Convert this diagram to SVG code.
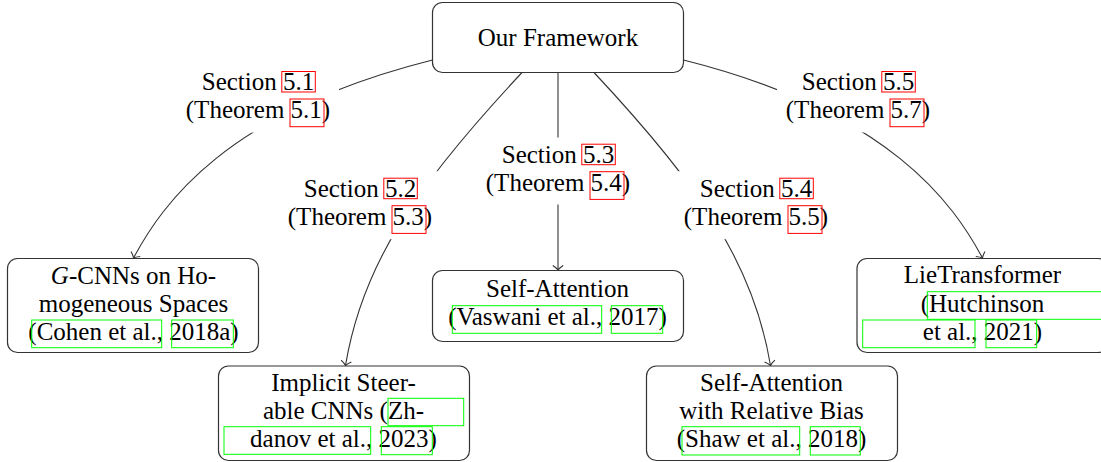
<svg xmlns="http://www.w3.org/2000/svg" width="1101" height="462" viewBox="0 0 1101 462">
<style>
text { font-family: "Liberation Serif", "Times New Roman", serif; font-size: 25px; fill: #000; text-anchor: middle; }
.node { fill: #fff; stroke: #333; stroke-width: 1.2; }
.edge { fill: none; stroke: #333; stroke-width: 1.1; }
.lbg { fill: #fff; stroke: none; }
.ref { fill: none; stroke: #ff0000; stroke-width: 1; }
.cite { fill: none; stroke: #00ff00; stroke-width: 1; }
</style>
<defs>
<marker id="arr" viewBox="-8 -8 10 16" refX="0" refY="0" markerWidth="10" markerHeight="16" markerUnits="userSpaceOnUse" orient="auto" overflow="visible">
<path d="M -4.5,-5.2 Q -1.8,-1.2 0,0 Q -1.8,1.2 -4.5,5.2" fill="none" stroke="#333" stroke-width="1.1"/>
</marker>
</defs>

<g id="connectors">
<path class="edge" d="M 432.5,60 C 225,112 162,205 133.5,258" marker-end="url(#arr)"/>
<path class="edge" d="M 522,72.5 C 413,189 362,266 345.5,365.5" marker-end="url(#arr)"/>
<path class="edge" d="M 558,72.5 L 558,270" marker-end="url(#arr)"/>
<path class="edge" d="M 594,72.5 C 703,189 754,266 770.5,365.5" marker-end="url(#arr)"/>
<path class="edge" d="M 683.5,60 C 891,112 954,205 982.5,258" marker-end="url(#arr)"/>

<g id="label-5-1">
<rect class="lbg" x="177" y="64.5" width="162" height="68"/>
<text x="258" y="90">Section 5.1</text>
<text x="258" y="118.3">(Theorem 5.1)</text>
<rect class="ref" x="281.8" y="71.5" width="33.5" height="20.5"/>
<rect class="ref" x="290" y="99" width="34" height="27.7"/>
</g>
<g id="label-5-2">
<rect class="lbg" x="279" y="171.2" width="162" height="68"/>
<text x="360" y="196.7">Section 5.2</text>
<text x="360" y="225">(Theorem 5.3)</text>
<rect class="ref" x="383.8" y="178.2" width="33.5" height="20.5"/>
<rect class="ref" x="392" y="205.7" width="34" height="27.7"/>
</g>
<g id="label-5-3">
<rect class="lbg" x="477" y="137.5" width="162" height="67"/>
<text x="558" y="162.7">Section 5.3</text>
<text x="558" y="191">(Theorem 5.4)</text>
<rect class="ref" x="581.8" y="144.2" width="33.5" height="20.5"/>
<rect class="ref" x="590" y="171.7" width="34" height="27.7"/>
</g>
<g id="label-5-4">
<rect class="lbg" x="675" y="171.2" width="162" height="68"/>
<text x="756" y="196.7">Section 5.4</text>
<text x="756" y="225">(Theorem 5.5)</text>
<rect class="ref" x="779.8" y="178.2" width="33.5" height="20.5"/>
<rect class="ref" x="788" y="205.7" width="34" height="27.7"/>
</g>
<g id="label-5-5">
<rect class="lbg" x="777" y="64.5" width="162" height="68"/>
<text x="858" y="90">Section 5.5</text>
<text x="858" y="118.3">(Theorem 5.7)</text>
<rect class="ref" x="881.8" y="71.5" width="33.5" height="20.5"/>
<rect class="ref" x="890" y="99" width="34" height="27.7"/>
</g>
</g>

<g id="node-framework">
<rect class="node" x="432.5" y="2.5" width="251" height="70" rx="10"/>
<text x="558" y="46">Our Framework</text>
</g>

<g id="node-gcnn">
<rect class="node" x="7.5" y="258.5" width="251" height="94" rx="10"/>
<text x="133.5" y="283.5"><tspan font-style="italic">G</tspan>-CNNs on Ho-</text>
<text x="133.5" y="311.5">mogeneous Spaces</text>
<text x="133.5" y="339.7">(Cohen et al., 2018a)</text>
<rect class="cite" x="31.7" y="320" width="130" height="27.7"/>
<rect class="cite" x="171.7" y="320" width="61.6" height="27.7"/>
</g>

<g id="node-implicit">
<rect class="node" x="218.5" y="366" width="251" height="94.5" rx="10"/>
<text x="343.5" y="391">Implicit Steer-</text>
<text x="343.5" y="418.5">able CNNs (Zh-</text>
<text x="343.5" y="446.7">danov et al., 2023)</text>
<rect class="cite" x="388" y="398.3" width="75.7" height="27.4"/>
<rect class="cite" x="224" y="426.7" width="146.7" height="27.6"/>
<rect class="cite" x="381.3" y="426.7" width="51" height="28"/>
</g>

<g id="node-vaswani">
<rect class="node" x="432.5" y="270.5" width="251" height="71" rx="10"/>
<text x="557.5" y="296.7">Self-Attention</text>
<text x="557.5" y="325">(Vaswani et al., 2017)</text>
<rect class="cite" x="452.3" y="305.7" width="149.4" height="27.6"/>
<rect class="cite" x="611.3" y="305.7" width="51.4" height="27.6"/>
</g>

<g id="node-shaw">
<rect class="node" x="646.5" y="366" width="251" height="94.5" rx="10"/>
<text x="771.5" y="390.7">Self-Attention</text>
<text x="771.5" y="418.5">with Relative Bias</text>
<text x="771.5" y="446.7">(Shaw et al., 2018)</text>
<rect class="cite" x="682" y="426.7" width="117.7" height="28.3"/>
<rect class="cite" x="810.3" y="426.7" width="50" height="28.3"/>
</g>

<g id="node-lietransformer">
<rect class="node" x="857" y="258.5" width="251" height="94" rx="10"/>
<text x="982.5" y="283.3">LieTransformer</text>
<text x="982.5" y="311.7">(Hutchinson</text>
<text x="982.5" y="340">et al., 2021)</text>
<rect class="cite" x="927.3" y="291.7" width="185" height="27.6"/>
<rect class="cite" x="862.7" y="320" width="112.3" height="27.7"/>
<rect class="cite" x="986" y="320" width="50.7" height="27.7"/>
</g>
</svg>
